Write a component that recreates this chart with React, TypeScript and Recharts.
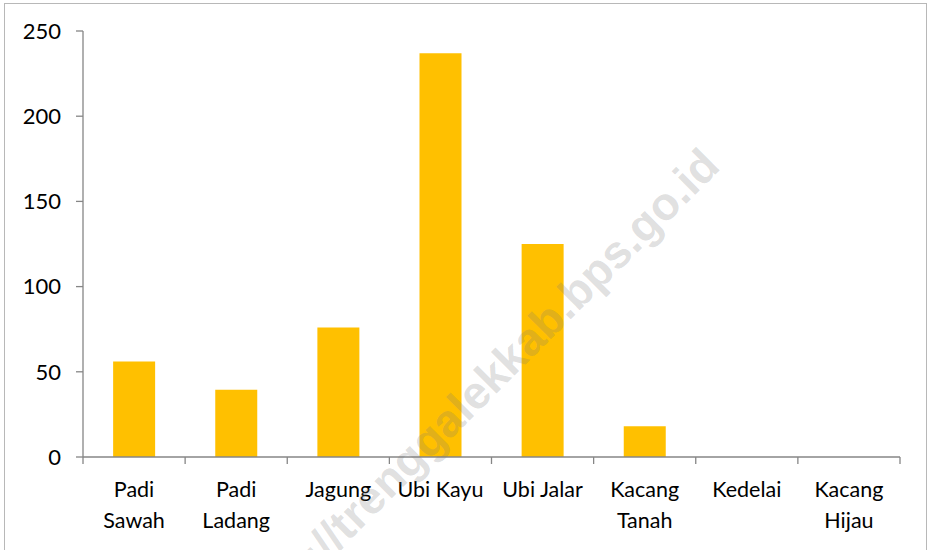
import React from 'react';
import { BarChart, Bar, XAxis, YAxis } from 'recharts';

const categories = ['Padi Sawah', 'Padi Ladang', 'Jagung', 'Ubi Kayu', 'Ubi Jalar', 'Kacang Tanah', 'Kedelai', 'Kacang Hijau'];
const values = [56, 39.5, 76, 237, 125, 18, 0, 0];
const yTicks = [0, 50, 100, 150, 200, 250];
const xLabelLines = [['Padi', 'Sawah'], ['Padi', 'Ladang'], ['Jagung'], ['Ubi Kayu'], ['Ubi Jalar'], ['Kacang', 'Tanah'], ['Kedelai'], ['Kacang', 'Hijau']];

const data = categories.map((name, i) => ({ name, value: values[i] }));

const W = 929;
const H = 550;
const M = { top: 31, right: 29, bottom: 0, left: 0 };
const X_H = 93;
const Y_W = 83;
const bandW = (W - M.right - Y_W) / categories.length;
const font = 'Lato, "Open Sans", sans-serif';
const axisGray = '#868686';

const XTick = (props: any) => {
  const { x, y, index } = props;
  const lines = xLabelLines[index] || [];
  const top = y - 8; // axis line
  const last = index === categories.length - 1;
  return (
    <g>
      <line x1={x - bandW / 2} x2={x - bandW / 2} y1={top} y2={top + 7} stroke={axisGray} strokeWidth={1.3} />
      {last && <line x1={x + bandW / 2} x2={x + bandW / 2} y1={top} y2={top + 7} stroke={axisGray} strokeWidth={1.3} />}
      <text x={x} y={top + 40} textAnchor="middle" fill="#000" fontSize={21.5} fontFamily={font}>
        {lines.map((l, i) => (
          <tspan key={i} x={x} dy={i === 0 ? 0 : 31}>{l}</tspan>
        ))}
      </text>
    </g>
  );
};

export default function App() {
  return (
    <div style={{ position: 'absolute', left: 0, top: 0, width: W, height: H, overflow: 'hidden', background: '#fff' }}>
      <div style={{ position: 'absolute', left: 4, top: 3, width: 923, height: 600, border: '1.5px solid #b8b8b8', boxSizing: 'border-box' }} />
      <div style={{ position: 'absolute', left: 0, top: 0 }}>
        <BarChart width={W} height={H} data={data} margin={M} barCategoryGap="29.5%">
          <XAxis
            dataKey="name"
            height={X_H}
            interval={0}
            tickLine={false}
            tickSize={0}
            tickMargin={8}
            stroke={axisGray}
            strokeWidth={1.3}
            tick={<XTick />}
          />
          <YAxis
            width={Y_W}
            domain={[0, 250]}
            ticks={yTicks}
            interval={0}
            tickSize={7}
            tickMargin={15}
            stroke={axisGray}
            strokeWidth={1.3}
            tick={{ fill: '#000', fontSize: 22, fontFamily: font }}
          />
          <Bar dataKey="value" fill="#FFC000" isAnimationActive={false} />
        </BarChart>
      </div>
      <svg width={W} height={H} style={{ position: 'absolute', left: 0, top: 0, pointerEvents: 'none' }}>
        <text
          x={722}
          y={168}
          textAnchor="end"
          transform="rotate(-45 722 168)"
          fontFamily='"Liberation Sans", Arial, sans-serif'
          fontWeight="bold"
          fontSize={46}
          fill="#7a7a7a"
          fillOpacity={0.24}
        >
          http://trenggalekkab.bps.go.id
        </text>
      </svg>
    </div>
  );
}
